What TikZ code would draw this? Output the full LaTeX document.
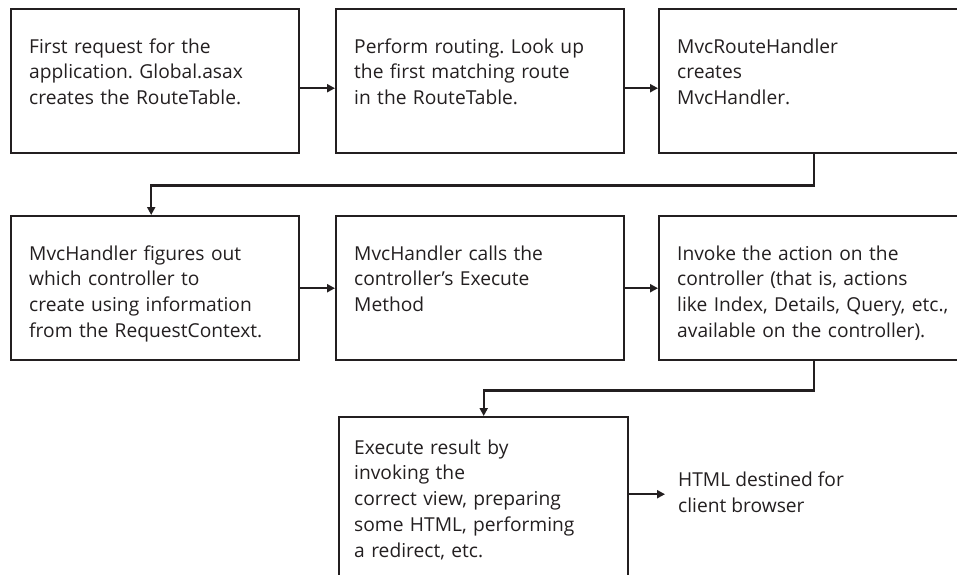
\documentclass[tikz,border=0pt]{standalone}
\usepackage{fontspec}
\setmainfont{Open Sans}
\usetikzlibrary{arrows.meta}

\definecolor{flowink}{RGB}{35, 31, 32}
\frenchspacing

\begin{document}
\begin{tikzpicture}[x=1pt, y=-1pt,
    stepbox/.style={draw=flowink, line width=2.4pt, anchor=north west, align=left,
      text=flowink, font=\fontsize{19.2}{25.7}\selectfont,
      inner xsep=18pt, inner ysep=26pt, text width=252pt,
      text height=18pt, text depth=74pt},
    widebox/.style={stepbox, text width=274pt},
    flow/.style={draw=flowink, line width=2.4pt, -{Triangle[length=8pt, width=8pt]}}]
  \useasboundingbox (0,0) rectangle (957,574);

  % first row
  \node[stepbox] (b1) at (10,8) {First request for the\\application. Global.asax\\creates the RouteTable.};
  \node[stepbox] (b2) at (335,8) {Perform routing. Look up\\the first matching route\\in the RouteTable.};
  \node[widebox] (b3) at (658,8) {MvcRouteHandler\\creates\\MvcHandler.};

  % second row
  \node[stepbox] (b4) at (10,215) {MvcHandler figures out\\which controller to\\create using information\\from the RequestContext.};
  \node[stepbox] (b5) at (335,215) {MvcHandler calls the\\controller's Execute\\Method};
  \node[widebox] (b6) at (658,215) {Invoke the action on the\\controller (that is, actions\\like Index, Details, Query, etc.,\\available on the controller).};

  % result box, runs off the bottom
  \node[stepbox, inner xsep=15pt, text width=259pt, inner ysep=19pt, text depth=124pt] (b7) at (338,416)
    {Execute result by\\invoking the\\correct view, preparing\\some HTML, performing\\a redirect, etc.};
  \node[anchor=west, align=left, text=flowink, font=\fontsize{19.2}{25.7}\selectfont,
    inner xsep=13pt, inner ysep=0pt] (out) at (665,492) {HTML destined for\\client browser};

  % connectors
  \draw[flow] ([yshift=-7pt]b1.east) -- ([yshift=-7pt]b2.west);
  \draw[flow] ([yshift=-7pt]b2.east) -- ([yshift=-7pt]b3.west);
  \draw[flow] (b3.south) -- ++(0,31) -| ([xshift=-4pt]b4.north);
  \draw[flow] (b4.east) -- (b5.west);
  \draw[flow] (b5.east) -- (b6.west);
  \draw[flow] (b6.south) -- ++(0,29) -| (b7.north);
  \draw[flow] ([yshift=13pt]b7.east) -- ([yshift=13pt]b7.east -| out.west);
\end{tikzpicture}
\end{document}
